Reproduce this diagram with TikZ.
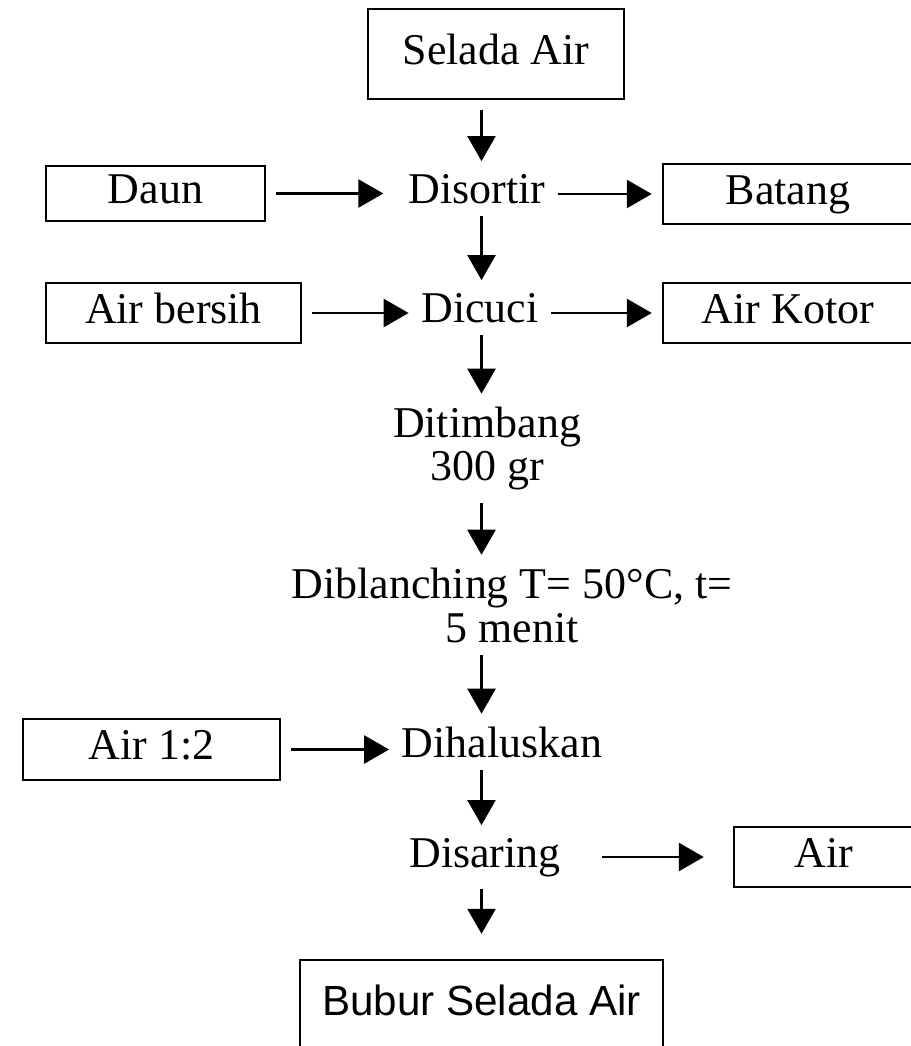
\documentclass[tikz,border=0pt]{standalone}
\usepackage{fontspec}
\setmainfont{Liberation Serif}
\newfontfamily\arialfont{Liberation Sans}
\usetikzlibrary{arrows.meta}

\begin{document}
\begin{tikzpicture}[
            box/.style={rectangle, draw, line width=1.4pt, inner sep=0pt, text height=0.6cm, text depth=0.2cm, font=\fontsize{25pt}{25pt}\selectfont},
            proc/.style={inner sep=0.05cm, align=center, font=\fontsize{25pt}{25pt}\selectfont},
            flow/.style={-{Triangle[length=0.5cm, width=0.56cm]}, line width=1.5pt, shorten <=0.2cm, shorten >=0.2cm}
        ]
            \useasboundingbox (0,0) rectangle (18.2,-20.92);

            % Boxes
            \node[box, minimum width=5.12cm, minimum height=1.8cm] (selada) at (9.92, -1.08) {Selada Air};
            \node[box, minimum width=4.38cm, minimum height=1.1cm] (daun) at (3.11, -3.87) {Daun};
            \node[box, minimum width=5cm, minimum height=1.2cm] (batang) at (15.76, -3.88) {Batang};
            \node[box, minimum width=5.1cm, minimum height=1.2cm] (bersih) at (3.47, -6.26) {Air bersih};
            \node[box, minimum width=5cm, minimum height=1.2cm] (kotor) at (15.76, -6.26) {Air Kotor};
            \node[box, minimum width=5.14cm, minimum height=1.22cm] (air12) at (3.03, -14.99) {Air 1:2};
            \node[box, minimum width=3.6cm, minimum height=1.2cm] (airout) at (16.48, -17.14) {Air};
            \node[box, minimum width=7.26cm, minimum height=1.8cm, font=\arialfont\fontsize{24pt}{24pt}\selectfont] (bubur) at (9.63, -20.1) {Bubur Selada Air};

            % Steps
            \node[proc, anchor=base] (sortir) at (9.54, -4.06) {Disortir};
            \node[proc, anchor=base] (cuci) at (9.6, -6.44) {Dicuci};
            \node[proc] (timbang) at (9.74, -8.97) {Ditimbang\\300 gr};
            \node[proc] (blanch) at (10.24, -12.1) {Diblanching T= 50°C, t=\\5 menit};
            \node[proc, anchor=base] (halus) at (10.04, -15.14) {Dihaluskan};
            \node[proc, anchor=base] (saring) at (9.7, -17.34) {Disaring};

            % Main flow
            \foreach \a/\b in {selada/sortir, sortir/cuci, cuci/timbang, timbang/blanch, blanch/halus, halus/saring} {
                \draw[flow] (\a.south -| bubur) -- (\b.north -| bubur);
            }
            \draw[flow, shorten >=0.5cm] (saring.south -| bubur) -- (bubur);

            % Inputs and outputs
            \draw[flow, shorten >=0.45cm] (daun) -- (daun -| sortir.west);
            \draw[flow] (sortir.east |- batang) -- (batang);
            \draw[flow] (bersih) -- (bersih -| cuci.west);
            \draw[flow] (cuci.east |- kotor) -- (kotor);
            \draw[flow] (air12) -- (air12 -| halus.west);
            \draw[flow, shorten <=0.76cm, shorten >=0.58cm] (saring.east |- airout) -- (airout);
        \end{tikzpicture}
\end{document}
